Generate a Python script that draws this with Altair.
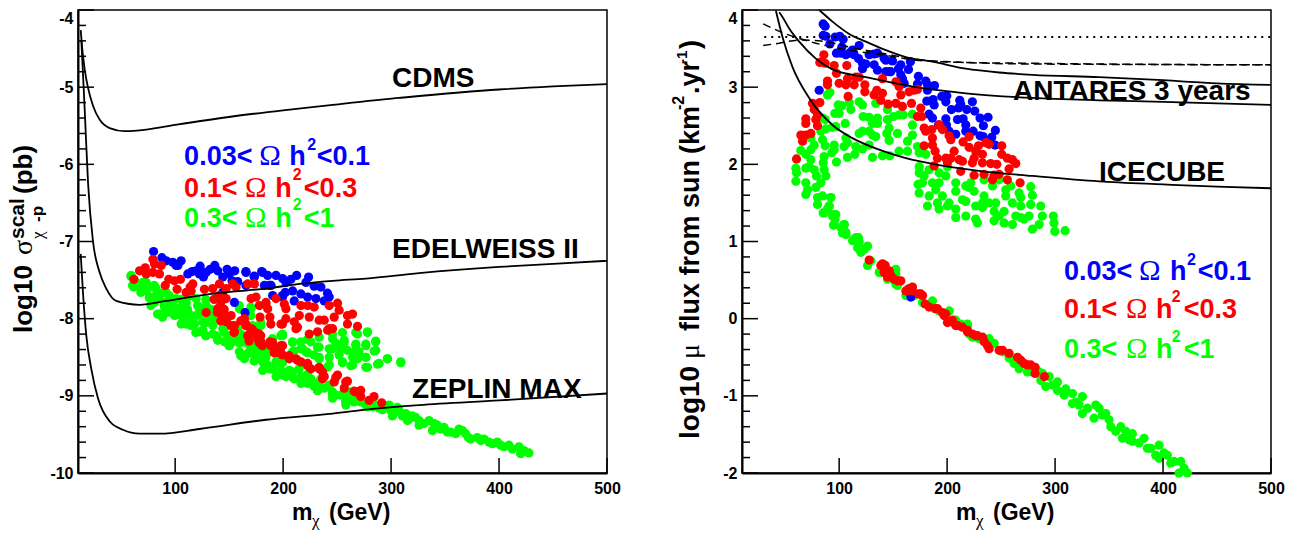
import altair as alt
import pandas as pd

SANS = "Liberation Sans"
SERIF = "Liberation Serif"
BLUE, RED, GREEN = "#0000ff", "#ff0000", "#00ff00"

X_TICKS = [100, 200, 300, 400, 500]
L_MAJOR = [-10, -9, -8, -7, -6, -5, -4]
R_MAJOR = [-2, -1, 0, 1, 2, 3, 4]

L_BLUE = [(80,-7.13),(87.7,-7.21),(91.7,-7.25),(97.8,-7.27),(100.9,-7.31),(105.5,-7.25),(102.5,-7.31),(111.7,-7.42),(115.7,-7.39),(119.4,-7.38),(123.1,-7.32),(122.5,-7.42),(126.2,-7.46),(128.7,-7.40),(132.4,-7.36),(136.7,-7.31),(139.4,-7.38),(144.1,-7.46),(148.1,-7.36),(150.2,-7.42),(155.2,-7.38),(152.7,-7.51),(157.9,-7.52),(165.6,-7.40),(165.6,-7.57),(173.3,-7.46),(180.1,-7.39),(185.7,-7.44),(182.6,-7.57),(188.8,-7.57),(193.4,-7.44),(199.5,-7.48),(202.6,-7.53),(207.2,-7.49),(212.5,-7.44),(223.6,-7.46),(221.1,-7.53),(228.8,-7.58),(235,-7.59),(241.1,-7.67),(242.7,-7.72),(208.8,-7.64),(199.5,-7.72),(210.3,-7.77),(222.7,-7.72),(230.4,-7.74),(238.1,-7.77),(190.3,-7.70),(202,-7.66),(216.5,-7.68),(154.9,-7.79),(164.7,-7.92),(144.1,-7.66),(165.5,-7.39),(173.2,-7.45),(180.9,-7.4),(187.1,-7.57),(199.4,-7.7)]

L_RED = [(61.8,-7.49),(67,-7.38),(72.3,-7.34),(79.4,-7.23),(80.9,-7.29),(87.1,-7.31),(79.4,-7.40),(73.2,-7.42),(85.5,-7.42),(90.8,-7.57),(94.1,-7.49),(99.4,-7.51),(104.9,-7.49),(101.8,-7.62),(110.2,-7.66),(113.9,-7.59),(116.3,-7.55),(114.8,-7.64),(127.1,-7.62),(134.8,-7.61),(141,-7.55),(147.2,-7.61),(153.3,-7.55),(156.4,-7.59),(167.2,-7.55),(173.4,-7.55),(128.7,-7.92),(137.9,-7.74),(142.5,-7.77),(147.2,-7.74),(139.4,-7.87),(144.1,-7.96),(151.8,-7.96),(147.2,-8.04),(154.9,-8.09),(154.9,-8.17),(164.1,-8.0),(165.6,-8.09),(170.3,-7.74),(174.9,-7.72),(178,-7.83),(178.6,-7.98),(170.3,-8.13),(173.4,-8.2),(176.4,-8.26),(179.5,-8.30),(167.2,-8.22),(184.1,-7.79),(185.7,-7.87),(187.8,-7.98),(193.4,-7.74),(201.1,-7.81),(202.6,-7.87),(202.6,-8.0),(198,-8.07),(211.9,-8.13),(210.3,-8.04),(215,-7.96),(216.5,-7.83),(222.7,-7.83),(228.8,-7.85),(224.2,-7.98),(233.4,-8.02),(238.1,-8.02),(241.2,-8.15),(245.8,-8.13),(250.4,-7.80),(251.9,-7.89),(247.3,-7.98),(242.7,-7.83),(259.6,-7.96),(264.3,-7.94),(259.6,-8.07),(268.9,-8.10),(224.2,-8.2),(231.9,-8.17),(187.8,-8.30),(193.4,-8.39),(199.5,-8.35),(199.5,-8.47),(205.7,-8.52),(211.9,-8.52),(216.5,-8.56),(222.7,-8.58),(225.8,-8.65),(233.4,-8.63),(236.5,-8.69),(238.1,-8.75),(250.4,-8.73),(247.3,-8.82),(259.6,-8.81),(256.6,-8.9),(265.8,-8.94),(271.9,-8.93),(271.9,-9.01),(284.2,-9.01),(279.6,-9.06),(291.3,-9.09)]
L_RED_DENSE = [(136.1,-7.75),(140.8,-7.70),(142.3,-7.79),(139.2,-7.92),(142.3,-8.03),(148.5,-7.98),(151.6,-8.09),(154.6,-8.18),(160.8,-8.03),(165.4,-8.09),(170.1,-8.16),(174.7,-8.18),(179.3,-8.22),(177.8,-8.31),(180.9,-8.35),(188.6,-8.35),(191.7,-8.44),(197.8,-8.44),(145.4,-7.88),(168.5,-8.29),(165.5,-8.07),(171.6,-8.14),(177.8,-8.2),(179.4,-8.33),(190.2,-8.31),(197.9,-8.35),(196.3,-8.44),(205.6,-8.48),(213.3,-8.54),(222.6,-8.61),(233.4,-8.65),(236.5,-8.78),(248.8,-8.76),(258,-8.82),(267.3,-8.95),(184,-7.81),(188.6,-8.07),(199.4,-8.07),(213.3,-8.11),(242.6,-8.13)]

L_GREEN = [(59.3,-7.44),(61.5,-7.59),(62.4,-7.51),(70.1,-7.53),(68.6,-7.59),(73.2,-7.64),(79.4,-7.59),(76.3,-7.72),(80.9,-7.79),(85.5,-7.74),(85.5,-7.94),(91.7,-7.79),(94.8,-7.87),(99.4,-7.96),(105.5,-7.85),(105.5,-7.96),(110.2,-8.07),(114.8,-7.96),(117.9,-8.07),(122.5,-8.17),(128.7,-8.22),(125.6,-8.04),(134.8,-8.09),(130.2,-7.98),(139.4,-8.28),(150.2,-8.35),(148.7,-8.22),(153.3,-8.3),(159.5,-8.43),(164.1,-8.3),(167.2,-8.45),(173.4,-8.39),(174.9,-8.52),(181.1,-8.56),(184.1,-8.5),(188.8,-8.65),(193.4,-8.56),(199.5,-8.73),(205.7,-8.67),(210.3,-8.78),(216.5,-8.75),(222.7,-8.84),(231.9,-8.93),(235,-8.78),(242.7,-8.86),(248.9,-8.99),(258.1,-9.08),(261.2,-8.95),(268.9,-9.03),(276.6,-9.12),(282.8,-9.08),(288.9,-9.16),(91.7,-7.66),(110.2,-7.79),(119.4,-7.74),(128.7,-7.83),(137.9,-8.0),(150.2,-8.09),(159.5,-7.87),(170.3,-7.87),(159.5,-8.22),(171.8,-8.09),(179.5,-8.09),(100.9,-7.74),(82.4,-7.61),(105.5,-8.07),(164.1,-8.52),(181.1,-8.67),(193.4,-8.75),(245.8,-9.03),(258.1,-9.12),(278.1,-9.14),(298.2,-9.12),(302.8,-9.21),(313.6,-9.25),
(199.5,-8.22),(208.8,-8.3),(218,-8.39),(216.5,-8.3),(233.4,-8.37),(228.8,-8.47),(225.7,-8.3),(221.1,-8.43),(242.7,-8.39),(245.8,-8.26),(256.6,-8.28),(259.6,-8.41),(255,-8.56),(264.3,-8.6),(267.4,-8.35),(270.4,-8.43),(276.6,-8.35),(285.8,-8.3),(285.8,-8.41),(278.1,-8.17),(268.9,-8.2),(276.6,-8.5),(288.9,-8.58),(278.1,-8.63),(296.6,-8.52),(309,-8.56),(242.7,-8.6),(233.4,-8.52),(242.7,-8.5),(264.3,-8.5),(251.9,-8.47),(248.9,-8.32),(208.8,-8.43),
(292,-9.15),(299.7,-9.19),(305.8,-9.15),(301.2,-9.26),(310.5,-9.26),(315.1,-9.32),(319.7,-9.26),(325.9,-9.32),(325.9,-9.38),(335.2,-9.32),(338.3,-9.45),(342.9,-9.38),(349.1,-9.41),(352.1,-9.47),(359.8,-9.49),(362.9,-9.43),(369.1,-9.49),(373.7,-9.56),(379.9,-9.54),(386.1,-9.56),(393.8,-9.62),(398.4,-9.6),(404.6,-9.66),(409.2,-9.64),(418.5,-9.66),(420,-9.75),(427.7,-9.74)]
L_GREEN_DENSE = [(59,-7.45),(60.5,-7.57),(71.3,-7.55),(68.2,-7.66),(76,-7.73),(71.3,-7.57),(80.6,-7.57),(83.7,-7.66),(77.5,-7.83),(83.7,-7.94),(92.9,-7.92),(89.8,-7.81),(99.1,-7.85),(105.3,-7.75),(103.7,-7.94),(111.4,-7.88),(108.3,-8.03),(114.5,-8.09),(122.2,-7.94),(128.4,-8.05),(119.1,-8.18),(128.4,-8.22),(136.1,-7.98),(139.2,-8.26),(145.4,-8.09),(150,-8.35),(154.6,-8.24),(160.8,-8.48),(157.7,-8.14),(170.1,-8.39),(176.2,-8.48),(185.5,-8.44),(194.8,-8.48),(190.1,-8.26),(197.8,-8.22),(159.3,-7.83),(170.1,-7.85),(170.1,-7.96),(179.3,-8.05),(128.4,-7.75),(120.7,-7.83),(133,-7.88),(145.4,-8.18),(99.1,-7.94),(94.5,-7.70),(89.8,-7.66),(114.5,-7.70),(88.3,-7.98),
(160.8,-8.2),(163.9,-8.48),(171.6,-8.35),(173.2,-8.55),(187.1,-8.65),(180.9,-8.44),(197.9,-8.67),(199.4,-8.57),(208.7,-8.76),(214.8,-8.65),(222.6,-8.82),(222.6,-8.72),(231.8,-8.93),(233.4,-8.82),(242.6,-8.87),(245.7,-8.98),(258,-9.06),(265.8,-9.08),(255,-8.98),(278.1,-9.1),(292,-9.13),
(199.4,-8.2),(208.7,-8.31),(210.2,-8.42),(222.6,-8.27),(216.4,-8.39),(222.6,-8.44),(233.4,-8.24),(231.8,-8.37),(233.4,-8.5),(241.1,-8.63),(245.7,-8.39),(255,-8.18),(256.5,-8.31),(253.4,-8.39),(245.7,-8.2),(267.3,-8.33),(265.8,-8.44),(276.6,-8.33),(276.6,-8.5),(285.8,-8.29),(284.3,-8.42),(287.4,-8.59),(296.6,-8.52),(309,-8.57),(278.1,-8.18),(255,-8.57),(262.7,-8.61),(268.9,-8.52),(276.6,-8.63),(267.3,-8.18),
(296.6,-9.13),(304.3,-9.21),(307.4,-9.19),(313.6,-9.23),(316.6,-9.3),(322.8,-9.28),(330.5,-9.36),(339.8,-9.36),(346,-9.43),(355.2,-9.47),(366,-9.45),(371.6,-9.54),(383,-9.58),(390.7,-9.6),(401.5,-9.64),(412.3,-9.69),(423.1,-9.71),
(73.2,-7.53),(82.4,-7.70),(90.1,-7.85),(96.3,-7.79),(102.5,-7.87),(111.7,-7.92),(119.4,-7.96),(122.5,-7.87),(113.3,-8.02),(125.6,-8.15),(134.8,-8.2),(137.9,-8.22),(144.1,-8.13),(145.6,-8.3),(156.4,-8.2),(159.5,-8.32),(167.2,-8.32),(171.8,-8.45),(181.1,-8.41),(185.7,-8.6),(191.8,-8.65),(196.5,-8.69),(202.6,-8.75),(208.8,-8.69),(216.5,-8.84),(225.7,-8.78),(228.8,-8.88),(238.1,-8.9),(245.8,-8.95),(253.5,-8.99),(264.3,-9.03),(272,-9.08),(282.8,-9.14),(292,-9.18)]

R_BLUE = [(85.2,3.82),(87,3.79),(85.2,3.67),(87.7,3.66),(91.4,3.56),(96.3,3.65),(100.6,3.66),(103.7,3.62),(102.5,3.52),(97.5,3.44),(101.5,3.44),(106.2,3.42),(109.3,3.44),(113.9,3.42),(112.3,3.48),(118.5,3.54),(117.9,3.37),(121.6,3.31),(121.6,3.24),(124.7,3.30),(127.8,3.42),(132.4,3.43),(135.5,3.44),(132.4,3.29),(135.5,3.22),(143.2,3.35),(141.7,3.37),(149.4,3.34),(146.3,3.2),(147.8,3.2),(143.2,3.2),(157.1,3.29),(154.9,3.24),(164.2,3.23),(166,3.33),(157.1,3.16),(158.6,3.11),(160.2,3.05),(173.4,3.14),(172.5,3.04),(180.2,3.08),(181.8,3.03),(188.3,3.02),(181.8,2.96),(195,2.88),(199.7,2.89),(181.2,2.82),(187,2.84),(188,2.77),(198.8,2.81),(204,2.71),(211.7,2.83),(212.6,2.78),(210.5,2.73),(218.2,2.71),(223.4,2.81),(225.6,2.69),(230.5,2.6),(237.9,2.61),(183.3,2.65),(186.4,2.6),(192,2.51),(198.8,2.59),(199.4,2.51),(209.6,2.58),(214.8,2.59),(201.8,2.43),(208,2.39),(217.3,2.51),(217.3,2.43),(224.1,2.43),(230.5,2.37),(233.3,2.36),(233.6,2.5),(244.7,2.44),(241.3,2.35),(244.4,2.25),(81.5,2.96),(166.4,0.28)]

R_RED = [(85.8,3.42),(82.1,3.32),(87,3.31),(95.4,3.28),(97.5,3.18),(107.1,3.28),(89.2,3.08),(89.2,3.03),(100,3.05),(107.7,3.11),(106.2,3.03),(113.9,3.03),(115.4,3.13),(118.5,3.13),(123.8,3.03),(123.8,2.94),(132.4,2.9),(134.9,2.96),(140.1,2.92),(138.6,2.83),(145.4,2.78),(152.5,2.79),(140.1,3.11),(152.5,3.07),(155.5,3.01),(157.1,2.9),(164.8,2.94),(169.4,2.96),(172.5,2.97),(158.6,2.75),(167,2.79),(175.6,2.73),(172.5,2.62),(176.5,2.62),(108.3,2.88),(82.1,2.8),(75.3,2.79),(76.9,2.71),(79.9,2.64),(69.1,2.59),(69.1,2.53),(78.4,2.58),(79.9,2.5),(64.5,2.38),(69.1,2.38),(73.8,2.4),(66.1,2.3),(60.5,2.07),
(178.7,2.47),(180.2,2.43),(185.8,2.45),(192.6,2.51),(195.7,2.45),(201.8,2.37),(203.4,2.32),(178.7,2.24),(186.4,2.34),(186.4,2.25),(188.9,2.17),(191,2.08),(188,1.98),(198.8,2.08),(203.4,2.08),(206.5,2.17),(200.3,2.02),(211.1,2.06),(214.2,2.04),(214.8,2.29),(220.4,2.36),(220.4,2.22),(229,2.24),(226.5,2.17),(225,2.08),(223.4,2.02),(232.7,2.13),(232.7,2.02),(212.6,1.91),(225,1.86),(235.8,2.28),(238.9,2.26),(250.6,2.24),(250.6,2.13),(255.8,2.08),(260.5,2.06),(263.6,2.01),(257.4,1.94),(240.4,2.01),(246,2.0),(234.2,1.87),(243.5,1.86),(242,1.80),(248.1,1.87),(255.8,1.80),(267.6,1.76),
(127.8,0.76),(138.6,0.69),(142.6,0.69),(146.3,0.62),(144.8,0.54),(154,0.49),(164.8,0.39),(173.5,0.32),(179.7,0.19),(188.9,0.13),(198.8,0.06),(203.4,-0.04),(214.2,-0.11),(223.5,-0.2),(232.8,-0.24),(237.4,-0.35),(248.2,-0.41),(257.4,-0.45),(268.2,-0.54),(274.4,-0.6),(281.5,-0.63),(281.5,-0.71),(290.1,-0.75)]
R_RED_BAND = [(140.2,0.71),(141.7,0.6),(147.9,0.56),(151,0.51),(157.1,0.49),(161.8,0.36),(167.9,0.41),(175.6,0.32),(183.4,0.15),(191.1,0.13),(197.2,0.04),(200.3,-0.05),(208,-0.09),(218.8,-0.17),(226.6,-0.22),(167.9,0.36),(177.2,0.3),(195.7,0.08),(205,-0.02),(209.6,-0.09),(218.9,-0.15),(228.1,-0.22),(234.3,-0.3),(238.9,-0.39),(251.3,-0.41),(265.2,-0.5),(271.3,-0.58),(277.5,-0.6)]

R_GREEN = [(91.4,2.93),(89.2,2.9),(84.6,2.6),(87,2.58),(83,2.43),(87.7,2.46),(93.8,2.48),(96.9,2.49),(84.6,2.32),(87,2.24),(99.1,2.77),(102.5,2.76),(96,2.66),(100,2.66),(109.3,2.8),(110.8,2.71),(118.5,2.81),(121.6,2.77),(122.2,2.62),(127.8,2.61),(133.9,2.79),(135.5,2.6),(144.7,2.71),(144.7,2.58),(150.3,2.62),(155.5,2.64),(159.3,2.64),(167.9,2.65),(167.9,2.51),(105.6,2.53),(121.6,2.43),(118.5,2.4),(130.9,2.53),(135.5,2.53),(127.8,2.43),(130.9,2.38),(146.3,2.47),(144.1,2.4),(154,2.4),(167.9,2.38),(163.3,2.3),(146.3,2.31),(133.9,2.36),(106.2,2.34),(107.7,2.28),(104.6,2.23),(95.4,2.25),(95.4,2.19),(93.2,2.15),(97.5,2.03),(107.7,2.09),(114.5,2.13),(115.4,2.23),(121.6,2.2),(127.8,2.25),(130.9,2.09),(140.1,2.11),(146.9,2.11),(155.5,2.17),(163.3,2.17),(172.5,2.23),(174.1,2.15),(180.2,2.13),
(73.8,2.34),(76.9,2.25),(64.5,2.18),(69.1,2.13),(73.8,2.19),(73.8,2.06),(86.1,2.1),(85.2,2.02),(59.9,1.95),(60.5,1.89),(59.9,1.78),(69.1,1.95),(72.2,1.97),(76.9,1.93),(86.1,1.93),(87.7,1.85),(79,1.85),(83,1.76),(69.1,1.76),(70.7,1.67),(69.1,1.61),(78.4,1.7),(79.9,1.57),(79.9,1.48),(84.6,1.59),(92.3,1.57),(90.7,1.46),(85.2,1.37),(96.9,1.35),(96.3,1.29),(94.8,1.21),(104.6,1.22),(103.1,1.11),(106.2,1.09),(113.9,1.03),(117.9,1.05),
(174.1,1.97),(174.1,1.89),(173.1,1.74),(174.1,1.63),(183.3,1.93),(186.4,1.76),(183.3,1.59),(181.8,1.46),(192.6,1.89),(200.3,1.97),(198.8,1.85),(189.5,1.67),(195.7,1.59),(192.6,1.42),(201.8,1.5),(208,1.76),(208,1.65),(208,1.42),(217.3,1.52),(217.3,1.33),(208,1.31),(221.9,1.76),(225,1.65),(220.4,1.7),(234.2,1.8),(234.2,1.59),(232.7,1.5),(226.5,1.29),(228.1,1.24),(232.7,1.44),(242,1.72),(245,1.5),(243.5,1.39),(243.5,1.27),(254.3,1.67),(254.3,1.59),(252.8,1.39),(252.8,1.24),(260.5,1.5),(266.6,1.63),(268.2,1.57),(268.2,1.46),(260.5,1.22),(268.2,1.31),(277.4,1.71),(279,1.6),(277.4,1.48),(286.7,1.46),(288.2,1.33),(285.2,1.22),(279,1.16),(298.4,1.33),(299,1.24),(299.7,1.13),(309.2,1.14),(248.1,1.8),(258.9,1.72),(271.3,1.29),(191,1.5),(200.3,1.46),(214.2,1.54),(226.5,1.46),(238.9,1.5),(248.1,1.33),(263.6,1.33),(275.9,1.33),(217.3,1.72),(192.6,1.76),(178.7,1.85),(177.2,1.76),
(92.3,1.57),(86.1,1.37),(90.8,1.46),(95.4,1.35),(95.4,1.22),(104.7,1.22),(104.7,1.12),(115.5,1.05),(118.5,0.99),(126.3,0.94),(120.1,0.86),(129.3,0.75),(138.6,0.6),(152.5,0.58),(154,0.43),(169.5,0.3),(186.4,0.23),(201.9,0.1),(218.8,-0.07),(223.5,-0.24),(208,-0.02),(218.9,-0.09),(243.6,-0.32),(257.4,-0.51),(266.7,-0.65),(274.4,-0.69),(285.2,-0.69),(286.8,-0.8),(291.4,-0.88),(294.5,-0.75),(302.2,-0.82),(302.2,-0.93),(309.9,-0.91),(316.1,-0.97),(316.1,-1.1),(325.3,-1.01),(325.3,-1.23),(337.7,-1.12),(336.1,-1.29),(346.9,-1.23),(351.6,-1.4),(360.8,-1.4),(362.4,-1.55),(371.6,-1.49),(371.6,-1.59),(382.4,-1.55),(385.5,-1.68),(396.3,-1.64),(396.3,-1.81),(404,-1.77),(407.1,-1.87),(416.4,-1.85),(414.8,-2.0),(422.5,-2.0)]
R_GREEN_BAND = [(93.9,1.33),(89.2,1.42),(101.6,1.18),(106.2,1.12),(112.4,1.01),(117,0.92),(123.2,0.9),(126.3,0.69),(137.1,0.6),(144.8,0.51),(152.5,0.45),(161.8,0.3),(177.2,0.21),(192.6,0.1),(208,-0.04),(220.4,-0.2),(152.5,0.64),(308.4,-0.99),(319.2,-1.08),(322.2,-1.12),(330,-1.16),(340.8,-1.16),(343.8,-1.25),(350,-1.31),(356.2,-1.46),(365.4,-1.46),(368.5,-1.57),(377.8,-1.61),(388.6,-1.68),(393.2,-1.77),(400.9,-1.74),(410.2,-1.85),(419.5,-1.94),(297.6,-0.86),(288.3,-0.71),(279,-0.69),(262.1,-0.58),(251.3,-0.43),(238.9,-0.26),(229.7,-0.26),(223.5,-0.22),(212.7,-0.07)]

CDMS = [(12.5,-4.26),(13.7,-4.47),(16.2,-4.77),(19.3,-5.01),(23.9,-5.24),(30,-5.42),(39.3,-5.53),(53.2,-5.57),(73.2,-5.55),(100,-5.49),(153,-5.38),(200,-5.30),(246,-5.23),(277,-5.18),(307,-5.14),(400,-5.03),(450,-4.99),(500,-4.96)]
EDELWEISS = [(13.1,-4.39),(16.2,-5.29),(19.3,-6.24),(23.9,-7.0),(30,-7.40),(36.2,-7.61),(45.4,-7.77),(67,-7.82),(91.7,-7.77),(122.5,-7.70),(153.3,-7.65),(184.1,-7.61),(215,-7.55),(245.8,-7.51),(276.6,-7.48),(325.9,-7.41),(400,-7.33),(450,-7.29),(500,-7.25)]
ZEPLIN = [(12.5,-7.16),(14.6,-7.66),(17.7,-8.22),(22.3,-8.65),(28.5,-9.03),(39.3,-9.33),(51.6,-9.44),(67,-9.49),(85.5,-9.49),(122.5,-9.43),(184.1,-9.31),(245.8,-9.23),(282.8,-9.17),(325.9,-9.12),(400,-9.06),(500,-8.97)]

R_CURVE_A = [(81.5,4.0),(93.8,3.85),(109.3,3.69),(124.7,3.59),(143.2,3.48),(161.7,3.39),(186.4,3.33),(217.3,3.24),(248.1,3.19),(279,3.16),(340.7,3.13),(400,3.09),(450,3.05),(500,3.03)]
R_CURVE_B = [(44.5,3.97),(47.5,3.91),(53.7,3.76),(63,3.59),(78.4,3.37),(93.8,3.23),(124.7,3.13),(171,3.0),(217.3,2.92),(279,2.86),(340.7,2.83),(400,2.81),(450,2.79),(500,2.77)]
ICECUBE = [(41.4,3.99),(47.5,3.65),(56.8,3.26),(72.2,2.86),(93.8,2.51),(112.3,2.34),(137,2.19),(161.7,2.08),(192.6,1.99),(232.7,1.91),(279,1.85),(340.7,1.78),(400,1.74),(450,1.71),(500,1.69)]
DOTTED = [(30.6,3.65),(500,3.65)]
DASH_UP = [(29.6,3.82),(50.6,3.69),(78.4,3.57),(109.3,3.48),(139.9,3.42),(171,3.35),(217.3,3.32),(279,3.31),(340.7,3.3),(500,3.29)]
DASH_LO = [(29.6,3.54),(44.5,3.57),(63,3.61),(87.7,3.59),(109.3,3.52),(139.9,3.44),(171,3.36),(217.3,3.32),(279,3.3),(500,3.29)]

W, H = 529, 463
DOT = 85
XS = alt.Scale(domain=[10, 500], nice=False, zero=False)


def df(pairs):
    return pd.DataFrame(pairs, columns=["x", "y"])


def panel(ys, major, blue, red, green, curves, dotted, dashes, labels, legend, title_parts):
    xe = alt.X("x:Q", scale=XS, title=None)
    ye = alt.Y("y:Q", scale=ys, title=None)
    minor = [round(major[0] + 0.2 * i, 1) for i in range(31) if i % 5]
    yx = alt.Y("v:Q", scale=ys, title=None)
    xx = alt.X("v:Q", scale=XS, title=None)
    layers = []
    base = alt.Chart(df(green)).mark_circle(size=DOT, opacity=1, color=GREEN).encode(
        x=alt.X("x:Q", scale=XS, title=None,
                axis=alt.Axis(values=X_TICKS, ticks=False, grid=False, format="d", labelFontSize=16,
                              labelFont=SANS, labelFontWeight="bold", labelColor="black", labelPadding=7,
                              domainColor="black", domainWidth=2, labelFlush=False)),
        y=alt.Y("y:Q", scale=ys, title=None,
                axis=alt.Axis(values=major, ticks=False, grid=False, labelFontSize=16,
                              labelExpr="datum.value + ''",
                              labelFont=SANS, labelFontWeight="bold", labelColor="black", labelPadding=5,
                              domainColor="black", domainWidth=2, labelFlush=False,
                              labelBaseline=alt.expr(f"datum.value=={major[-1]}?'top':'middle'"))),
    )
    layers.append(base)
    layers.append(alt.Chart(df(blue)).mark_circle(size=DOT, opacity=1, color=BLUE).encode(x=xe, y=ye))
    layers.append(alt.Chart(df(red)).mark_circle(size=DOT, opacity=1, color=RED).encode(x=xe, y=ye))
    for c in curves:
        layers.append(alt.Chart(df(c)).mark_line(color="black", strokeWidth=1.8, interpolate="monotone").encode(x=xe, y=ye))
    for c in dotted:
        layers.append(alt.Chart(df(c)).mark_line(color="black", strokeWidth=2, strokeDash=[2, 5]).encode(x=xe, y=ye))
    for c in dashes:
        layers.append(alt.Chart(df(c)).mark_line(color="black", strokeWidth=1.5, strokeDash=[8, 5], interpolate="monotone").encode(x=xe, y=ye))
    layers.append(alt.Chart(pd.DataFrame({"v": major})).mark_rule(color="black", strokeWidth=1.5).encode(y=yx, x=alt.value(0), x2=alt.value(16)))
    layers.append(alt.Chart(pd.DataFrame({"v": minor})).mark_rule(color="black", strokeWidth=1.5).encode(y=yx, x=alt.value(0), x2=alt.value(8)))
    layers.append(alt.Chart(pd.DataFrame({"v": X_TICKS})).mark_rule(color="black", strokeWidth=1.5).encode(x=xx, y=alt.value(H), y2=alt.value(H - 15)))
    for (s, x, y) in labels:
        layers.append(alt.Chart(pd.DataFrame({"x": [x], "y": [y], "t": [s]})).mark_text(
            font=SANS, fontWeight="bold", fontSize=28, align="left", baseline="alphabetic", color="black").encode(x=xe, y=ye, text="t:N"))
    for (s, x, y, col, font, weight, size) in legend:
        layers.append(alt.Chart(pd.DataFrame({"x": [x], "y": [y], "t": [s]})).mark_text(
            font=font, fontWeight=weight, fontSize=size, align="left", baseline="alphabetic", color=col).encode(x=xe, y=ye, text="t:N"))
    for (s, px, py, font, weight, size, angle) in title_parts:
        layers.append(alt.Chart(pd.DataFrame({"t": [s]})).mark_text(
            font=font, fontWeight=weight, fontSize=size, align="left", baseline="alphabetic", color="black", angle=angle).encode(
            x=alt.value(px), y=alt.value(py), text="t:N"))
    return alt.layer(*layers).properties(width=W, height=H)


def legend_rows(xs, ys, sup):
    rows = []
    texts = [("0.03<", "<0.1", BLUE), ("0.1<", "<0.3", RED), ("0.3<", "<1", GREEN)]
    for i, (a, b, col) in enumerate(texts):
        x0, xo, xh, x2, xb = xs[i]
        rows += [(a, x0, ys[i], col, SANS, "bold", 27), ("\u03a9", xo, ys[i], col, SERIF, "normal", 29),
                 ("h", xh, ys[i], col, SANS, "bold", 27), ("2", x2, sup[i], col, SANS, "bold", 16),
                 (b, xb, ys[i], col, SANS, "bold", 27)]
    return rows


def xtitle():
    return [("m", 214, H + 47, SANS, "bold", 23, 0), ("\u03c7", 234, H + 53, SERIF, "normal", 17, 0), ("(GeV)", 251, H + 47, SANS, "bold", 23, 0)]


L_LEG = legend_rows([(108.3, 177.8, 205.6, 222.3, 231.2), (108.3, 164.8, 192.6, 208.9, 219.2), (108.3, 164.8, 192.6, 208.9, 219.2)],
                    [-6.01, -6.42, -6.81], [-5.81, -6.2, -6.59])
R_LEG = legend_rows([(308.3, 377.8, 406.5, 422.3, 432.2), (308.3, 365.7, 393.5, 408, 419.2), (308.3, 365.7, 393.5, 408, 419.2)],
                    [0.5, 0.006, -0.51], [0.7, 0.21, -0.3])

L_TITLE = xtitle() + [("log10", -46, 323, SANS, "bold", 26, 270), ("\u03c3", -46, 245, SERIF, "normal", 28, 270),
                      ("scal", -54, 229, SANS, "bold", 21, 270), ("\u03c7", -35, 229, SERIF, "normal", 17, 270), ("-p", -35, 212, SANS, "bold", 17, 270),
                      ("(pb)", -46, 184, SANS, "bold", 26, 270)]
R_TITLE = xtitle() + [("log10", -43, 429, SANS, "bold", 28, 270), ("\u03bc", -43, 349, SERIF, "normal", 28, 270),
                      ("flux from sun", -43, 321, SANS, "bold", 27, 270), ("(km", -43, 144, SANS, "bold", 27, 270),
                      ("-2", -58, 100, SANS, "bold", 16, 270), (".yr", -43, 84, SANS, "bold", 27, 270),
                      ("-1", -55, 54, SANS, "bold", 15, 270), (")", -43, 39, SANS, "bold", 27, 270)]

left = panel(alt.Scale(domain=[-10, -4], nice=False, zero=False), L_MAJOR, L_BLUE, L_RED + L_RED_DENSE, L_GREEN + L_GREEN_DENSE,
             [CDMS, EDELWEISS, ZEPLIN], [], [],
             [("CDMS", 300.9, -5.0), ("EDELWEISS II", 300.9, -7.21), ("ZEPLIN MAX", 319.4, -9.03)], L_LEG, L_TITLE)
right = panel(alt.Scale(domain=[-2, 4], nice=False, zero=False), R_MAJOR, R_BLUE, R_RED + R_RED_BAND, R_GREEN + R_GREEN_BAND,
              [R_CURVE_A, R_CURVE_B, ICECUBE], [DOTTED], [DASH_UP, DASH_LO],
              [("ANTARES 3 years", 261.1, 2.83), ("ICECUBE", 340.7, 1.79)], R_LEG, R_TITLE)

chart = alt.hconcat(left, right, spacing=135, bounds="flush").properties(
    padding={"left": -2, "top": -3, "right": 0, "bottom": 0}, background="white"
).configure_view(stroke="black", strokeWidth=1.5)

chart.save("out.html", embed_options={"renderer": "svg", "actions": False})
